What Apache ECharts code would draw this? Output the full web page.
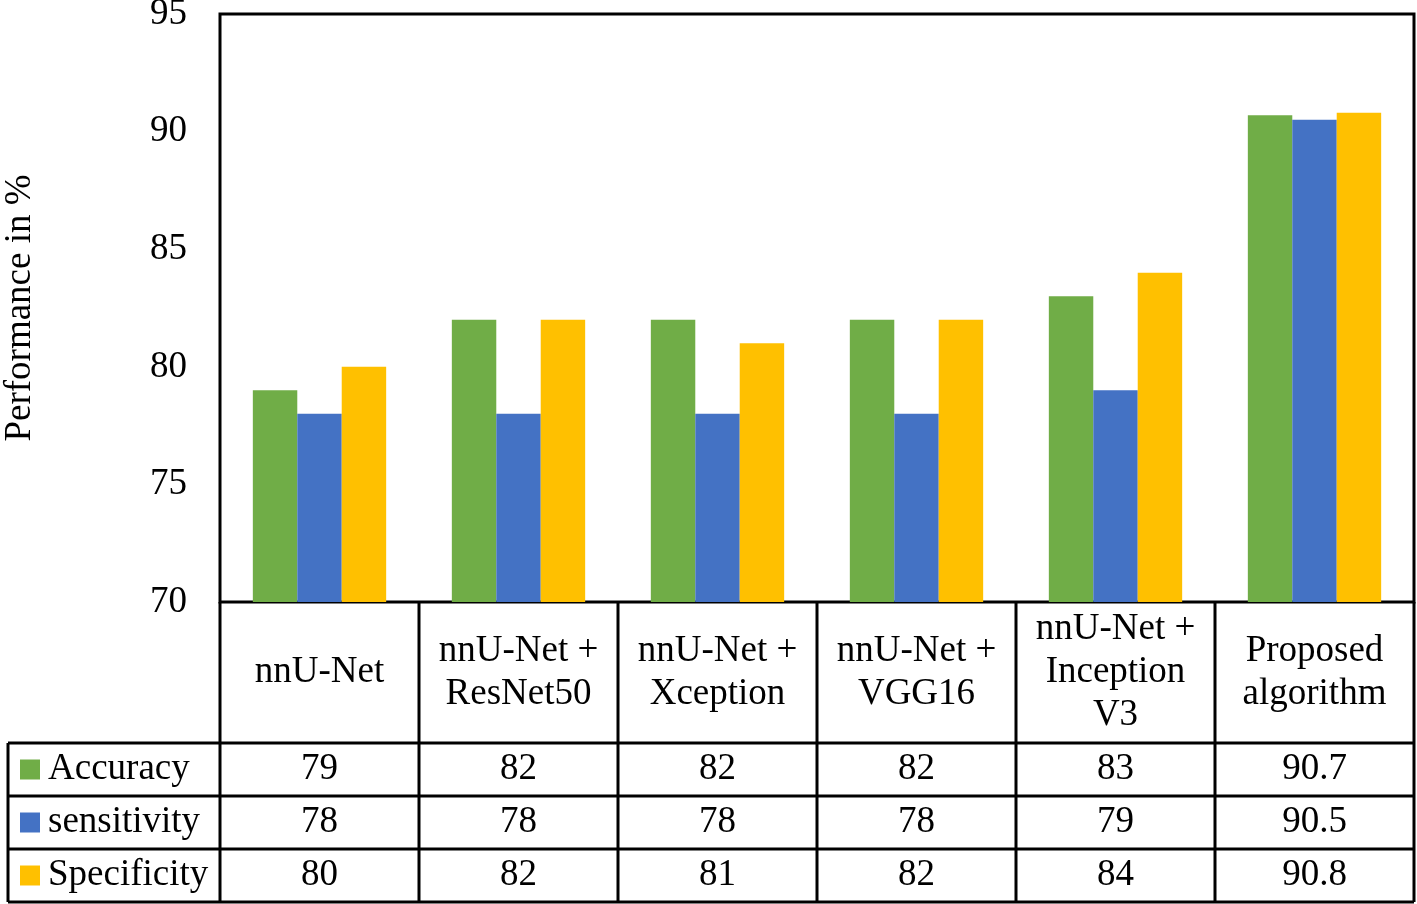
<!DOCTYPE html>
<html><head><meta charset="utf-8">
<script src="https://cdn.jsdelivr.net/npm/echarts@6/dist/echarts.min.js"></script>
<style>html,body{margin:0;padding:0;background:#fff}#c{width:1417px;height:904px}</style>
</head><body><div id="c"></div>
<script>
const categories = ['nnU-Net', 'nnU-Net +\nResNet50', 'nnU-Net +\nXception', 'nnU-Net +\nVGG16', 'nnU-Net +\nInception\nV3', 'Proposed\nalgorithm'];
const seriesNames = ['Accuracy', 'sensitivity', 'Specificity'];
const accuracy = [79, 82, 82, 82, 83, 90.7];
const sensitivity = [78, 78, 78, 78, 79, 90.5];
const specificity = [80, 82, 81, 82, 84, 90.8];
const colors = ['#70AD47', '#4472C4', '#FFC000'];
const yTicks = [70, 75, 80, 85, 90, 95];

const FONT = 'Liberation Serif';
const FS = 37;
const G = {left: 220, right: 3, top: 14, bottom: 302};
const headerH = 141, rowH = 53;
const allSeries = [accuracy, sensitivity, specificity];

const valueAxes = allSeries.map((vals, i) => ({
  type: 'category', data: categories, gridIndex: 0, position: 'bottom',
  axisLine: {show: false}, axisTick: {show: false}, splitLine: {show: false},
  axisLabel: {
    interval: 0, margin: headerH + rowH * i + rowH / 2, verticalAlign: 'middle',
    fontFamily: FONT, fontSize: FS, color: '#000',
    formatter: (v, idx) => String(vals[idx])
  }
}));

const chart = echarts.init(document.getElementById('c'), null, {renderer: 'canvas'});
chart.setOption({
  animation: false,
  backgroundColor: '#fff',
  grid: {left: G.left, right: G.right, top: G.top, bottom: G.bottom, containLabel: false, outerBoundsMode: 'none',
    show: true, borderColor: '#000', borderWidth: 3, backgroundColor: 'transparent'},
  xAxis: [{
    type: 'category', data: categories,
    axisLine: {show: false}, axisTick: {show: false}, splitLine: {show: false},
    axisLabel: {interval: 0, margin: headerH / 2, verticalAlign: 'middle', fontFamily: FONT, fontSize: FS, lineHeight: 43, color: '#000'}
  }].concat(valueAxes),
  yAxis: {
    type: 'value', min: yTicks[0], max: yTicks[yTicks.length - 1], interval: 5,
    name: 'Performance in %', nameLocation: 'middle', nameRotate: 90, nameGap: 181,
    nameTextStyle: {fontFamily: FONT, fontSize: FS, color: '#000'},
    axisLine: {show: false}, axisTick: {show: false}, splitLine: {show: false},
    axisLabel: {margin: 33, fontFamily: FONT, fontSize: FS, color: '#000'}
  },
  series: allSeries.map((vals, i) => ({
    name: seriesNames[i], type: 'bar', data: vals, barGap: '0%', barCategoryGap: '33%',
    itemStyle: {color: colors[i]}, xAxisIndex: 0
  }))
});

// Data table grid lines and legend keys
const rect = chart.getModel().getComponent('grid').coordinateSystem.getRect();
const x0 = rect.x, x1 = rect.x + rect.width, yb = rect.y + rect.height;
const tableLeft = 8;
const gfx = [];
const line = (a, b, c, d) => gfx.push({type: 'line', shape: {x1: a, y1: b, x2: c, y2: d}, style: {stroke: '#000', lineWidth: 3}, z: 10});
const n = categories.length;
for (let k = 0; k <= n; k++) {
  const x = x0 + rect.width * k / n;
  line(x, yb, x, yb + headerH + rowH * 3);
}
for (let r = 0; r <= 3; r++) {
  const y = yb + headerH + rowH * r;
  line(tableLeft, y, x1, y);
}
line(tableLeft, yb + headerH, tableLeft, yb + headerH + rowH * 3);
seriesNames.forEach((nm, i) => {
  const cy = yb + headerH + rowH * i + rowH / 2;
  gfx.push({type: 'rect', shape: {x: 20, y: cy - 10, width: 20, height: 20}, style: {fill: colors[i]}, z: 10});
  gfx.push({type: 'text', x: 48, y: cy, style: {text: nm, font: FS + 'px "' + FONT + '"', fill: '#000', verticalAlign: 'middle', align: 'left'}, z: 10});
});
chart.setOption({graphic: gfx});
</script></body></html>
